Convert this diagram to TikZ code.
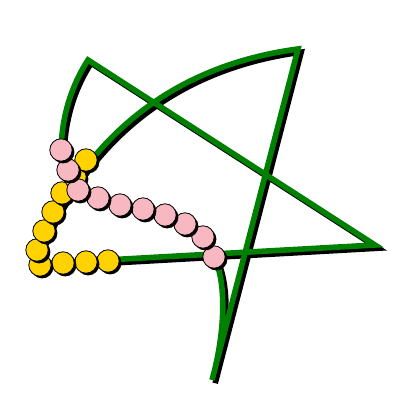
\documentclass[tikz,border=0pt]{standalone}
\usepackage{xcolor}
\usepackage{tikz}
\usetikzlibrary{calc, shadows}
\definecolor{stemgreen}{HTML}{008000}
\definecolor{beadyellow}{HTML}{FFD200}
\definecolor{beadpink}{HTML}{F8B8C2}

\begin{document}
\begin{tikzpicture}[
  x=0.25mm, y=-0.25mm,
  starline/.style={draw=stemgreen, line width=1.4mm, line join=miter},
  starshadow/.style={draw=black, line width=1.4mm, transform canvas={shift={(0.8mm,-0.8mm)}}},
  bead/.style={circle, draw=black, line width=0.6pt, minimum size=5.6mm, inner sep=0pt,
    drop shadow={opacity=1, fill=black, shadow xshift=0.55mm, shadow yshift=-0.55mm}}
]
\useasboundingbox (0,0) rectangle (400,400);

% corners of the star
\coordinate (tl) at (88,60);
\coordinate (tr) at (298,49);
\coordinate (rt) at (375,245);
\coordinate (bt) at (212,380);
\coordinate (lf) at (34,264);
\coordinate (pk) at (214,257);

\draw[starline, preaction={starshadow}]
  (tl) -- (rt) -- (lf) .. controls (65,175) and (140,70) .. (tr) -- (bt)
  .. controls (226,330) and (226,280) .. (pk)
  .. controls (200,228) and (165,213) .. (120,204) -- (78,190) -- (61,150)
  .. controls (62,110) and (75,80) .. cycle;

% beads
\foreach \p [count=\i] in {(108,261),(86,262),(63,263),(40,265),(37,250),
    (44,231),(53,212),(62,193),(75,177),(86,160)}
  \node[bead, fill=beadyellow] (y\i) at \p {};
\foreach \p [count=\i] in {(214,257),(203,237),(185,224),(165,215),(143,209),
    (120,205),(98,198),(78,190),(68,170),(61,150)}
  \node[bead, fill=beadpink] (p\i) at \p {};
\end{tikzpicture}
\end{document}
